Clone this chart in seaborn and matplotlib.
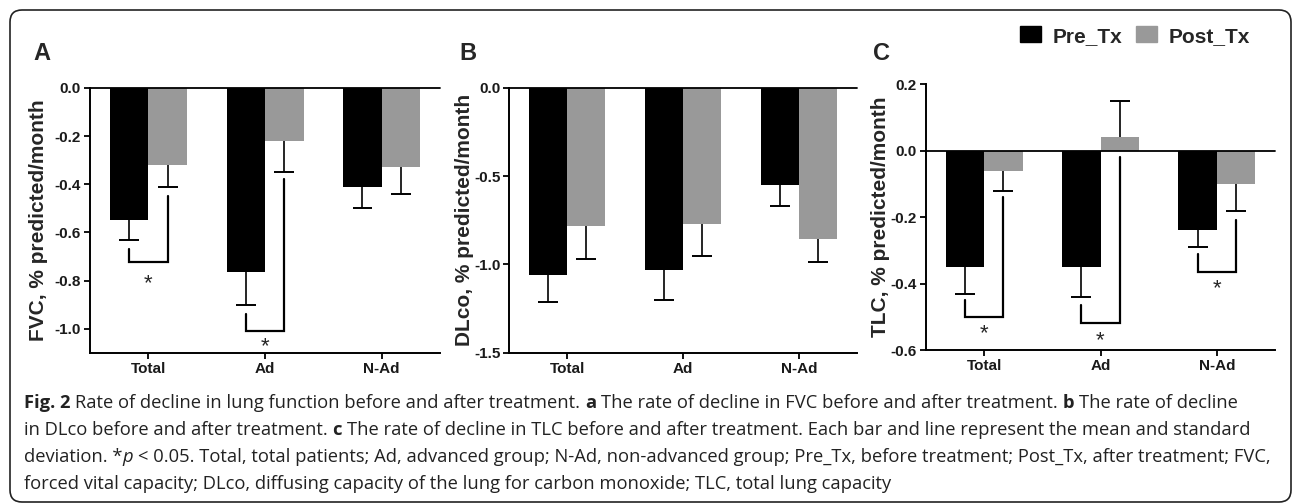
import numpy as np
import pandas as pd
import matplotlib
matplotlib.use("Agg")
import matplotlib.pyplot as plt
import matplotlib.transforms as mtransforms
import seaborn as sns
from matplotlib.patches import Patch, FancyBboxPatch
from matplotlib.ticker import FormatStrFormatter
from matplotlib.font_manager import FontProperties

# Data (mean, SD; % predicted/month)
groups = ["Total", "Ad", "N-Ad"]
phases = ["Pre_Tx", "Post_Tx"]

fvc_pre = [-0.55, -0.765, -0.41]
fvc_pre_sd = [0.08, 0.135, 0.09]
fvc_post = [-0.32, -0.22, -0.33]
fvc_post_sd = [0.09, 0.13, 0.11]

dlco_pre = [-1.06, -1.03, -0.55]
dlco_pre_sd = [0.155, 0.17, 0.12]
dlco_post = [-0.78, -0.77, -0.855]
dlco_post_sd = [0.19, 0.18, 0.13]

tlc_pre = [-0.35, -0.35, -0.24]
tlc_pre_sd = [0.08, 0.09, 0.05]
tlc_post = [-0.06, 0.04, -0.10]
tlc_post_sd = [0.06, 0.11, 0.08]

# significance brackets: (group, left top, bracket y, right top, star y)
fvc_sig = [(0, -0.67, -0.725, -0.45, -0.785), (1, -0.94, -1.01, -0.38, -1.05)]
dlco_sig = []
tlc_sig = [(0, -0.45, -0.50, -0.14, -0.53), (1, -0.465, -0.52, -0.02, -0.553),
           (2, -0.31, -0.365, -0.21, -0.395)]

W, H = 1293, 504
plt.rcParams["axes.unicode_minus"] = False
sns.set_style("ticks")
plt.rcParams["font.family"] = ["Liberation Sans", "DejaVu Sans"]

colors = ["#000000", "#999999"]

fig = plt.figure(figsize=(W / 100, H / 100), dpi=100)

panels = [
    ("A", "FVC, % predicted/month", fvc_pre, fvc_pre_sd, fvc_post, fvc_post_sd, fvc_sig,
     (-1.1, 0.0), [0.0, -0.2, -0.4, -0.6, -0.8, -1.0], [90, 88, 440, 352.7], 39, 33),
    ("B", "DLco, % predicted/month", dlco_pre, dlco_pre_sd, dlco_post, dlco_post_sd, dlco_sig,
     (-1.5, 0.0), [0.0, -0.5, -1.0, -1.5], [509.3, 87.7, 856.7, 352.7], 464, 459),
    ("C", "TLC, % predicted/month", tlc_pre, tlc_pre_sd, tlc_post, tlc_post_sd, tlc_sig,
     (-0.6, 0.2), [0.2, 0.0, -0.2, -0.4, -0.6], [926, 84.3, 1275, 350], 881, 873),
]

for letter, ylab, pre, pre_sd, post, post_sd, sig, ylim, yticks, box, ylab_x, let_x in panels:
    l, t, r, b = box
    ax = fig.add_axes([l / W, 1 - b / H, (r - l) / W, (b - t) / H])
    df = pd.DataFrame({
        "group": groups * 2,
        "phase": [phases[0]] * 3 + [phases[1]] * 3,
        "value": pre + post,
    })
    sns.barplot(data=df, x="group", y="value", hue="phase", order=groups,
                hue_order=phases, palette=colors, width=0.66, saturation=1,
                errorbar=None, linewidth=0, legend=False, ax=ax)

    # one-sided SD bars, away from zero
    for cont, vals, sds in zip(ax.containers, [pre, post], [pre_sd, post_sd]):
        for bar, v, s in zip(cont, vals, sds):
            xc = bar.get_x() + bar.get_width() / 2
            end = v - s if v < 0 else v + s
            ax.plot([xc, xc], [v, end], color="black", lw=1.2, solid_capstyle="butt")
            ax.plot([xc - 0.085, xc + 0.085], [end, end], color="black", lw=1.4,
                    solid_capstyle="butt")

    centers_pre = [bar.get_x() + bar.get_width() / 2 for bar in ax.containers[0]]
    centers_post = [bar.get_x() + bar.get_width() / 2 for bar in ax.containers[1]]
    # asterisk glyph sits high, so put the baseline below the wanted centre
    star_tr = mtransforms.offset_copy(ax.transData, fig=fig, x=0, y=-12, units="dots")
    for g, y_left, y_bar, y_right, y_star in sig:
        x1, x2 = centers_pre[g], centers_post[g]
        ax.plot([x1, x1, x2, x2], [y_left, y_bar, y_bar, y_right], color="black",
                lw=1.6, solid_joinstyle="miter")
        ax.text((x1 + x2) / 2, y_star, "*", ha="center", va="baseline", fontsize=16,
                transform=star_tr)

    ax.axhline(0, color="black", lw=1.3, clip_on=False, zorder=5)
    ax.set_xlim(-0.5, 2.5)
    ax.set_ylim(*ylim)
    ax.set_yticks(yticks)
    ax.yaxis.set_major_formatter(FormatStrFormatter("%.1f"))
    sns.despine(ax=ax)
    for sp in ["left", "bottom"]:
        ax.spines[sp].set_linewidth(1.4)
        ax.spines[sp].set_color("black")
    ax.tick_params(axis="both", direction="out", length=4, width=1.3, color="black",
                   labelsize=11, labelcolor="#1a1a1a", pad=2.5)
    for lab in ax.get_xticklabels() + ax.get_yticklabels():
        lab.set_fontweight("bold")
    ax.set_xlabel("")
    ax.set_ylabel("")
    fig.text(ylab_x / W, 1 - ((t + b) / 2) / H, ylab, rotation=90, ha="center",
             va="center", fontsize=15, fontweight="bold")
    fig.text(let_x / W, 1 - 60 / H, letter, ha="left", va="baseline", fontsize=17,
             fontweight="bold")

fig.legend(handles=[Patch(color=c) for c in colors], labels=phases, ncol=2,
           loc="center left", bbox_to_anchor=(1020 / W, 1 - 36 / H), frameon=False,
           prop={"size": 15, "weight": "bold"}, handlelength=1.0, handleheight=0.8,
           handletextpad=0.58, columnspacing=0.63, borderpad=0, borderaxespad=0)

# caption frame
fig.patches.append(FancyBboxPatch((10 / 100, (H - 502) / 100), 12.81, 4.92,
                                  boxstyle="round,pad=0,rounding_size=0.12",
                                  transform=fig.dpi_scale_trans, fill=False,
                                  edgecolor="#222222", lw=1.2))

# caption with mixed styles
cap_font = ["Open Sans", "DejaVu Sans"]
cap_size = 13.2
caption = [
    [("Fig. 2", "bold"), (" Rate of decline in lung function before and after treatment.", "normal"),
     (" a", "bold"), (" The rate of decline in FVC before and after treatment.", "normal"),
     (" b", "bold"), (" The rate of decline", "normal")],
    [("in DLco before and after treatment.", "normal"), (" c", "bold"),
     (" The rate of decline in TLC before and after treatment. Each bar and line represent the mean and standard", "normal")],
    [("deviation. *", "normal"), ("p", "italic"),
     (" < 0.05. Total, total patients; Ad, advanced group; N-Ad, non-advanced group; Pre_Tx, before treatment; Post_Tx, after treatment; FVC,", "normal")],
    [("forced vital capacity; DLco, diffusing capacity of the lung for carbon monoxide; TLC, total lung capacity", "normal")],
]
renderer = fig.canvas.get_renderer()
fp = FontProperties(family=cap_font, size=cap_size)
space_w = (renderer.get_text_width_height_descent("a a", fp, False)[0]
           - renderer.get_text_width_height_descent("aa", fp, False)[0])
for i, line in enumerate(caption):
    x = 24
    y = 1 - (408 + 27 * i) / H
    for txt, style in line:
        if txt.startswith(" "):
            x += space_w
            txt = txt[1:]
        tt = fig.text(x / W, y, txt, ha="left", va="baseline", family=cap_font,
                      fontsize=cap_size, color="#222222",
                      fontweight="bold" if style == "bold" else "normal",
                      fontstyle="italic" if style == "italic" else "normal")
        x += tt.get_window_extent(renderer).width

fig.savefig("out.png", dpi=100)
